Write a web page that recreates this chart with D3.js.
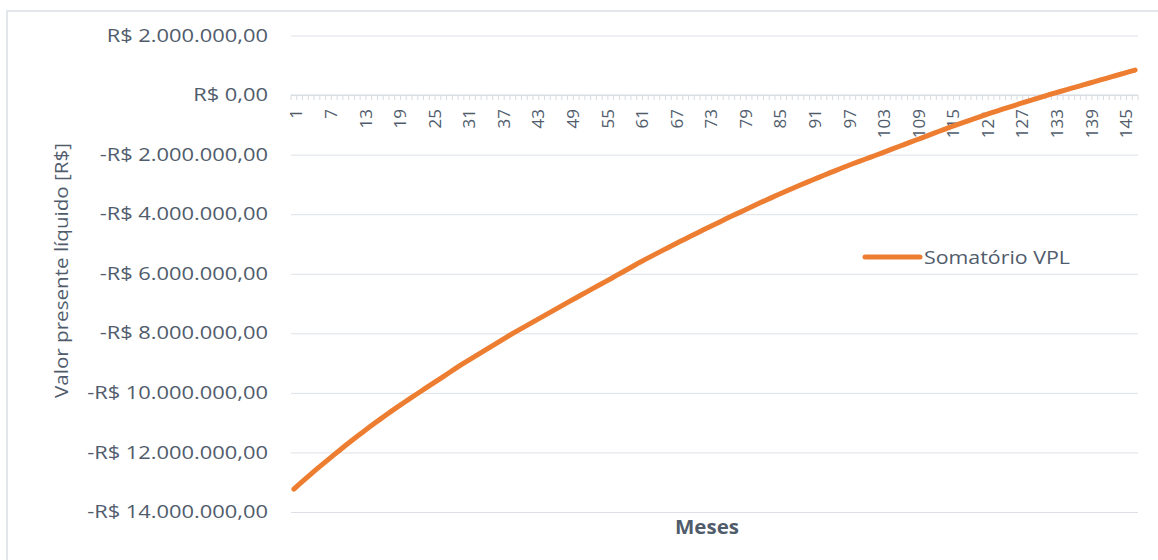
<!DOCTYPE html>
<html lang="pt-BR">
<head>
<meta charset="utf-8">
<title>Somatório VPL</title>
<script src="https://cdn.jsdelivr.net/npm/d3@7"></script>
<style>
  html, body { margin: 0; padding: 0; background: #ffffff; }
  svg { display: block; }
  text { font-family: "Open Sans", "Noto Sans", sans-serif; fill: #505c6c; }
</style>
</head>
<body>
<svg id="chart" width="1158" height="560"></svg>
<script>
// Meses do projeto (eixo de categorias)
const months = d3.range(1, 148);

// Somatório do VPL acumulado por mês, em milhões de R$
const vplMillions = [
  -13.230, -13.058, -12.888, -12.721, -12.555, -12.392, -12.231, -12.072,
  -11.916, -11.761, -11.609, -11.459, -11.311, -11.166, -11.022,
  -10.881, -10.742, -10.605, -10.471, -10.338, -10.208, -10.080,
  -9.953, -9.825, -9.698, -9.570, -9.443, -9.315, -9.188, -9.060,
  -8.942, -8.824, -8.707, -8.589, -8.471, -8.353, -8.236, -8.118, -8.000,
  -7.891, -7.782, -7.673, -7.564, -7.456, -7.347, -7.238, -7.129, -7.020,
  -6.912, -6.804, -6.697, -6.590, -6.484, -6.378, -6.273, -6.168,
  -6.057, -5.948, -5.839, -5.730, -5.620,
  -5.518, -5.417, -5.316, -5.216, -5.116, -5.018,
  -4.919, -4.822, -4.725, -4.629, -4.533, -4.438,
  -4.344, -4.250, -4.157, -4.064, -3.973,
  -3.881, -3.791, -3.701, -3.611, -3.523, -3.435,
  -3.350, -3.265, -3.181, -3.097, -3.014, -2.932,
  -2.851, -2.771, -2.692, -2.613, -2.535, -2.458,
  -2.382, -2.307, -2.236, -2.164, -2.092, -2.020,
  -1.947, -1.874, -1.801, -1.728, -1.654, -1.581, -1.508,
  -1.435, -1.362, -1.289, -1.216, -1.143, -1.070,
  -1.003, -0.936, -0.869, -0.801, -0.734, -0.667, -0.600,
  -0.538, -0.476, -0.414, -0.352, -0.290,
  -0.230, -0.170, -0.110, -0.050, 0.010,
  0.065, 0.120, 0.175, 0.230, 0.285, 0.340,
  0.396, 0.451, 0.507, 0.562, 0.618, 0.673, 0.729, 0.784, 0.840
];
const vpl = vplMillions.map(v => v * 1e6);

// Marcas do eixo vertical (R$)
const yTickValues = [2e6, 0, -2e6, -4e6, -6e6, -8e6, -10e6, -12e6, -14e6];
// Rótulos do eixo horizontal: um a cada 6 meses
const xLabelMonths = [1, 7, 13, 19, 25, 31, 37, 43, 49, 55, 61, 67, 73, 79, 85, 91, 97, 103, 109, 115, 121, 127, 133, 139, 145];

const seriesName = "Somatório VPL";
const yTitle = "Valor presente líquido [R$]";
const xTitle = "Meses";

const data = months.map((m, i) => ({ month: m, value: vpl[i] }));

const svg = d3.select("#chart");
const plot = { left: 291, right: 1138, top: 35.5, bottom: 512 };
const gridColor = "#dde1e7";
const lineColor = "#ed7d31";

const brl = d3.formatLocale({
  decimal: ",", thousands: ".", grouping: [3], currency: ["R$ ", ""], minus: "-"
});
const fmt = brl.format("$,.2f");

const x = d3.scaleBand().domain(months).range([plot.left, plot.right]).padding(0);
const y = d3.scaleLinear().domain([-14e6, 2e6]).range([plot.bottom, plot.top]);

// moldura da área do gráfico
svg.append("rect")
  .attr("x", 7).attr("y", 11).attr("width", 1300).attr("height", 700)
  .attr("fill", "#ffffff").attr("stroke", "#dde1e7").attr("stroke-width", 1.6);

// linhas de grade horizontais
svg.append("g")
  .attr("transform", `translate(${plot.left},0)`)
  .call(d3.axisLeft(y).tickValues(yTickValues).tickSize(-(plot.right - plot.left)).tickFormat(""))
  .call(g => g.select(".domain").remove())
  .call(g => g.selectAll("line").attr("stroke", gridColor).attr("stroke-width", 1));

// rótulos do eixo vertical
const yAxis = svg.append("g")
  .attr("transform", `translate(${plot.left},0)`)
  .call(d3.axisLeft(y).tickValues(yTickValues).tickSize(0).tickFormat(fmt))
  .call(g => g.select(".domain").remove());
yAxis.selectAll("text")
  .attr("font-size", "17.5px")
  .attr("fill", "#505c6c");
// alarga os rótulos para a largura do maior valor
let widest = 0;
yAxis.selectAll("text").each(function () { widest = Math.max(widest, this.getComputedTextLength()); });
const sx = 181 / widest;
yAxis.selectAll("text")
  .attr("x", -23 / sx)
  .attr("transform", `scale(${sx},1)`);

// eixo horizontal na posição do zero
const y0 = Math.round(y(0));
svg.append("line")
  .attr("x1", plot.left).attr("x2", plot.right)
  .attr("y1", y0).attr("y2", y0)
  .attr("stroke", "#d6dbe2").attr("stroke-width", 1.2);

// marcas de escala entre as categorias
const boundaries = months.map(m => x(m)).concat([plot.right]);
svg.append("g").selectAll("line")
  .data(boundaries)
  .join("line")
  .attr("x1", d => d).attr("x2", d => d)
  .attr("y1", y0).attr("y2", y0 + 5)
  .attr("stroke", "#d6dbe2").attr("stroke-width", 1);

// rótulos dos meses, girados
const xAxis = svg.append("g")
  .attr("transform", `translate(0,${y0})`)
  .call(d3.axisBottom(x).tickValues(xLabelMonths).tickSize(0))
  .call(g => g.select(".domain").remove());
xAxis.selectAll("text")
  .attr("font-size", "17px")
  .attr("fill", "#505c6c")
  .attr("text-anchor", "end")
  .attr("dominant-baseline", "central")
  .attr("dy", null)
  .attr("x", -14)
  .attr("y", 2)
  .attr("transform", "rotate(-90)");

// série
const line = d3.line()
  .x(d => x(d.month) + x.bandwidth() / 2)
  .y(d => y(d.value));
svg.append("path")
  .datum(data)
  .attr("d", line)
  .attr("fill", "none")
  .attr("stroke", lineColor)
  .attr("stroke-width", 5)
  .attr("stroke-linejoin", "round")
  .attr("stroke-linecap", "round");

// legenda
svg.append("line")
  .attr("x1", 865).attr("x2", 920)
  .attr("y1", 257).attr("y2", 257)
  .attr("stroke", lineColor).attr("stroke-width", 5).attr("stroke-linecap", "round");
svg.append("text")
  .attr("x", 924).attr("y", 263.5)
  .attr("font-size", "18px")
  .attr("textLength", 146).attr("lengthAdjust", "spacingAndGlyphs")
  .text(seriesName);

// títulos dos eixos
svg.append("text")
  .attr("transform", `translate(68,270.5) rotate(-90)`)
  .attr("text-anchor", "middle")
  .attr("font-size", "18px")
  .attr("textLength", 255).attr("lengthAdjust", "spacingAndGlyphs")
  .text(yTitle);

svg.append("text")
  .attr("x", 707).attr("y", 534)
  .attr("text-anchor", "middle")
  .attr("font-size", "19px")
  .attr("font-weight", "bold")
  .attr("textLength", 64).attr("lengthAdjust", "spacingAndGlyphs")
  .text(xTitle);
</script>
</body>
</html>
